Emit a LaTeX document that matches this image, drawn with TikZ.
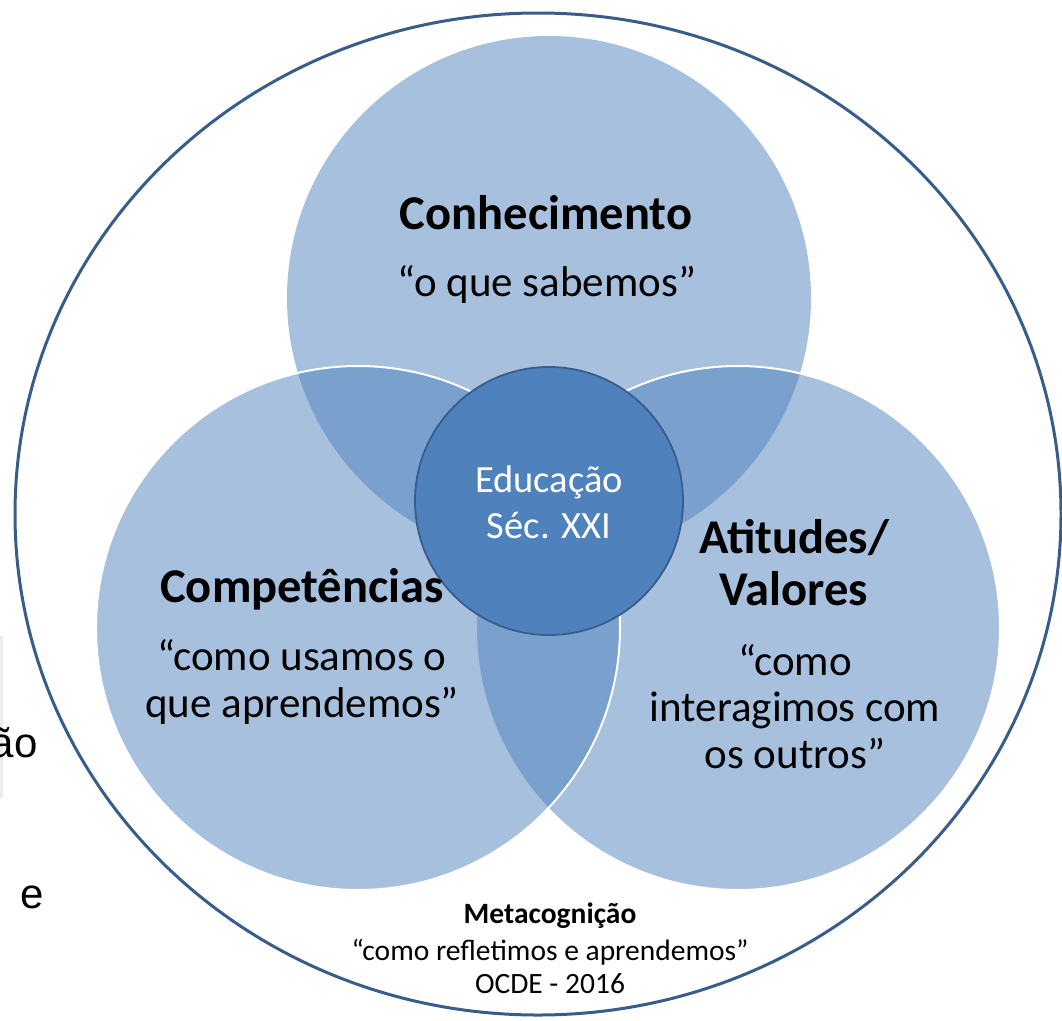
\documentclass[tikz,border=0pt]{standalone}
\usepackage{fontspec}
\setmainfont{Carlito}
\newfontfamily\cutfont{Liberation Sans}
\usepackage{tikz}
\usetikzlibrary{shapes.geometric, positioning}
\definecolor{vennblue}{HTML}{4F81BD}
\definecolor{rimblue}{HTML}{385D8A}

\begin{document}
\begin{tikzpicture}[
    x=1pt, y=-1pt,
    venn/.style={circle, fill=vennblue, fill opacity=0.5, draw=white, line width=2pt, minimum size=524pt, inner sep=0pt},
    core/.style={circle, fill=vennblue, draw=rimblue, line width=1.8pt, minimum size=268pt, inner sep=0pt},
    frame_ellipse/.style={ellipse, draw=rimblue, line width=3pt, minimum width=1046pt, minimum height=1002pt, inner sep=0pt},
    head_text/.style={anchor=base, align=center, font=\fontsize{48.5}{52}\selectfont\bfseries},
    quote_text/.style={anchor=base, align=center, font=\fontsize{43}{46.5}\selectfont},
    core_text/.style={anchor=base, align=center, text=white, font=\fontsize{38.5}{46}\selectfont},
    foot_text/.style={anchor=base, align=center, font=\fontsize{29.5}{33}\selectfont},
    cut_text/.style={font=\cutfont\fontsize{42}{48}\selectfont}
]

\useasboundingbox (0,0) rectangle (1062,1020);

% text cut off at the left border
\fill[black!8] (0,636) rectangle (3,798);
\node[cut_text, anchor=base east] (cut1) at (41,757) {ão};
\node[cut_text, anchor=base west] (cut2) at (17,908) {e};

% outer frame
\node[frame_ellipse] (frame) at (538,514) {};

% the three sets
\node[venn, draw=none] (know) at (549,298) {};
\node[venn] (attit) at (738,628) {};
\node[venn] (skill) at (358,628) {};

% centre
\node[core] (edu) at (549,501) {};

% labels (base = last line)
\node[head_text] (know_t) at (546,229) {Conhecimento};
\node[quote_text] (know_q) at (547,296) {“o que sabemos”};

\node[head_text] (skill_t) at (302,602) {Competências};
\node[quote_text] (skill_q) at (302,717) {“como usamos o\\que aprendemos”};

\node[head_text] (attit_t) at (794,605) {Atitudes/\\Valores};
\node[quote_text] (attit_q) at (795,768) {“como\\interagimos com\\os outros”};

\node[core_text] (edu_t) at (549,538) {Educação\\Séc. XXI};

\node[foot_text, font=\fontsize{29.5}{33}\selectfont\bfseries] (meta_t) at (550,923) {Metacognição};
\node[foot_text] (meta_q) at (550,993) {“como refletimos e aprendemos”\\OCDE - 2016};

\end{tikzpicture}
\end{document}
